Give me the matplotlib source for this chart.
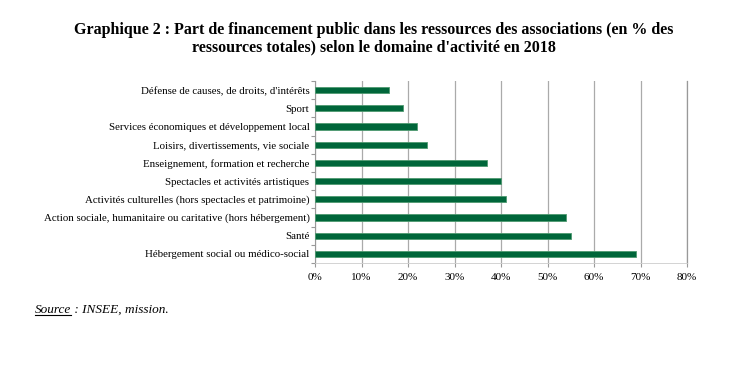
import matplotlib.pyplot as plt
import numpy as np

categories = [
    "Défense de causes, de droits, d'intérêts",
    "Sport",
    "Services économiques et développement local",
    "Loisirs, divertissements, vie sociale",
    "Enseignement, formation et recherche",
    "Spectacles et activités artistiques",
    "Activités culturelles (hors spectacles et patrimoine)",
    "Action sociale, humanitaire ou caritative (hors hébergement)",
    "Santé",
    "Hébergement social ou médico-social",
]
values = [16, 19, 22, 24, 37, 40, 41, 54, 55, 69]
xticks = [0, 10, 20, 30, 40, 50, 60, 70, 80]

plt.rcParams['font.family'] = ['Liberation Serif', 'DejaVu Serif']

fig = plt.figure(figsize=(7.48, 3.90), dpi=100)
ax = fig.add_axes([315 / 748, 1 - 263 / 390, 372 / 748, 182 / 390])

y = np.arange(len(categories))
ax.barh(y, values, height=0.34, color='#00663A', edgecolor='#4E9A70',
        linewidth=0.6, zorder=3)
ax.set_ylim(len(categories) - 0.5, -0.5)
ax.set_xlim(0, 80)

ax.set_xticks(xticks)
ax.set_xticklabels([f"{t}%" for t in xticks], fontsize=8)
ax.set_yticks(y)
ax.set_yticklabels(categories, fontsize=7.8)
ax.tick_params(axis='y', length=0, pad=4)
ax.set_yticks(np.arange(len(categories) + 1) - 0.5, minor=True)
ax.tick_params(axis='y', which='minor', length=3, color='#999999', width=0.8)
ax.tick_params(axis='x', length=3, color='#999999', width=0.8, pad=4)

ax.grid(axis='x', color='#AAAAAA', linewidth=0.9, zorder=0)
ax.spines['top'].set_visible(False)
ax.spines['right'].set_color('#999999')
ax.spines['right'].set_linewidth(0.9)
ax.spines['left'].set_color('#999999')
ax.spines['bottom'].set_color('#CCCCCC')
ax.spines['bottom'].set_linewidth(0.6)

fig.text(0.5, 1 - 30 / 390,
         "Graphique 2 : Part de financement public dans les ressources des associations (en % des",
         ha='center', va='center', fontsize=11.5, fontweight='bold')
fig.text(0.5, 1 - 47 / 390,
         "ressources totales) selon le domaine d'activité en 2018",
         ha='center', va='center', fontsize=11.5, fontweight='bold')

src = fig.text(35 / 748, 1 - 310 / 390, "Source", ha='left', va='center',
               fontsize=9.5, style='italic')
fig.canvas.draw()
bb = src.get_window_extent()
fig.text(bb.x1 / 748, 1 - 310 / 390, " : INSEE, mission.", ha='left', va='center',
         fontsize=9.5, style='italic')
fig.add_artist(plt.Line2D([bb.x0 / 748, bb.x1 / 748], [(bb.y0 + 1) / 390] * 2,
                          color='black', linewidth=0.8))

fig.savefig('out.png', dpi=100)
